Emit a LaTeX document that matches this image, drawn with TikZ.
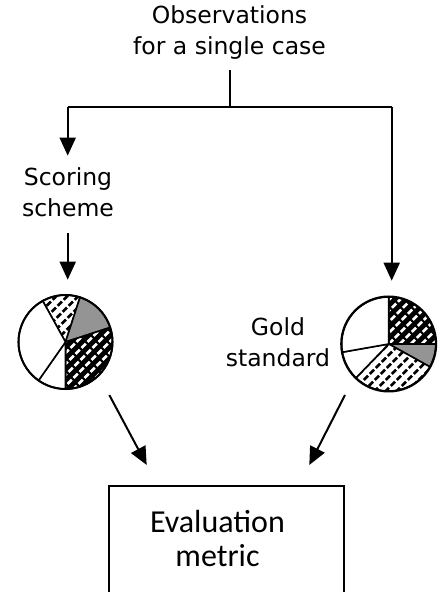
\documentclass[tikz,border=0pt]{standalone}
\usepackage{fontspec}
\setmainfont{DejaVu Sans}
\newfontfamily\calfont{Carlito}
\usetikzlibrary{arrows.meta}
\tikzset{
  conn/.style={line width=2pt, -{Triangle[length=18pt,width=16pt]}},
  plain/.style={line width=2pt},
  lbl/.style={font=\fontsize{23.5}{31}\selectfont, align=center, inner sep=0pt},
  slicebd/.style={line width=1.6pt, line join=round},
  rim/.style={circle, draw, line width=2pt, inner sep=0pt},
}
\newcommand\pr{47}
\newcommand\plainslice[3]{%
  \filldraw[fill=#3, slicebd] (0,0) -- (#1:\pr) arc[start angle=#1,end angle=#2,radius=\pr] -- cycle;}
\newcommand\stripeslice[4]{%
  \begin{scope}
    \clip (0,0) -- (#1:\pr) arc[start angle=#1,end angle=#2,radius=\pr] -- cycle;
    \fill[#3] (-60,-60) rectangle (60,60);
    \foreach \k in {-12,...,12}
      \draw[#4, line width=2.6pt, dash pattern=on 6pt off 2.5pt] (\k*11-60,-60) -- (\k*11+60,60);
  \end{scope}
  \draw[slicebd] (0,0) -- (#1:\pr) arc[start angle=#1,end angle=#2,radius=\pr] -- cycle;}
\begin{document}
\begin{tikzpicture}[x=1pt,y=1pt]
\useasboundingbox (0,0) rectangle (438,592);
\clip (0,0) rectangle (438,592);

% texts (base anchor = baseline of last line)
\node[lbl, anchor=base] (obs) at (229.5,537) {Observations\\for a single case};
\node[lbl, anchor=base] (scoring) at (68,375.3) {Scoring\\scheme};
\node[lbl, anchor=base] (gold) at (278,225.5) {Gold\\standard};

% junction points
\coordinate (j) at (230,485);
\coordinate (cl) at (67.7,485);
\coordinate (cr) at (391.7,485);

% left pie
\begin{scope}[shift={(65.5,250)}]
  \stripeslice{72}{119}{white}{black}
  \plainslice{18}{72}{black!42}
  \stripeslice{-90}{18}{black}{white}
  \plainslice{-125}{-90}{white}
  \plainslice{119}{235}{white}
\end{scope}
\node[rim, minimum size=94pt] (lpie) at (65.5,250) {};

% right pie
\begin{scope}[shift={(388.7,248)}]
  \stripeslice{0}{90}{black}{white}
  \plainslice{-29}{0}{black!42}
  \stripeslice{-134}{-29}{white}{black}
  \plainslice{190}{226}{white}
  \plainslice{90}{190}{white}
\end{scope}
\node[rim, minimum size=95pt] (rpie) at (388.7,248) {};

% box
\node[draw, line width=2pt, minimum width=235pt, minimum height=126.3pt, inner sep=0pt] (box) at (226.8,43.15) {};
\node[font=\calfont\fontsize{32}{34.7}\selectfont, align=center, inner sep=0pt, anchor=base] (metric) at (217.5,25.3) {Evaluation\\metric};

% connectors
\draw[plain, shorten <=10pt] (obs.south -| j) -- (j);
\draw[plain] (cl) -- (cr);
\draw[conn, shorten >=12pt] (cl) -- (cl |- scoring.north);
\draw[conn, shorten <=16pt, shorten >=14.3pt] (scoring.south -| cl) -- (cl |- lpie.north);
\draw[conn, shorten >=14.8pt] (cr) -- (cr |- rpie.north);

\coordinate (la1) at (109.3,197);
\coordinate (la2) at (146.7,127);
\coordinate (ra1) at (345,197);
\coordinate (ra2) at (309.3,127);
\draw[conn] (la1) -- (la2);
\draw[conn] (ra1) -- (ra2);
\end{tikzpicture}
\end{document}
